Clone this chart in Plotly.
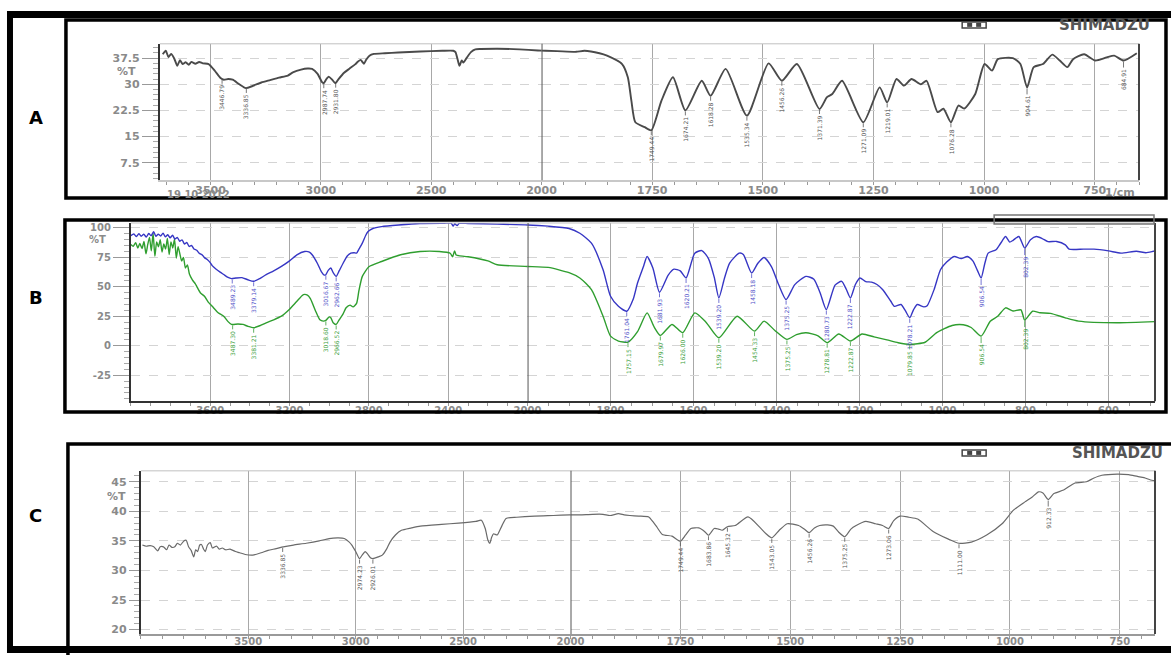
import numpy as np
import plotly.graph_objects as go

W, H = 1171, 655
WX = 1156  # pixel width that the paper area spans in the photographed page

# ---------------- Panel A data ----------------
a_wn = [3717, 3703, 3691, 3679, 3665, 3651, 3639, 3627, 3613, 3599, 3587, 3569, 3552, 3535, 3509,
        3480, 3455, 3440, 3420, 3400, 3370, 3340, 3310, 3270, 3230, 3190, 3150, 3127, 3090, 3060,
        3040, 3015, 2995, 2987, 2975, 2965, 2950, 2935, 2920, 2895, 2870, 2845, 2832, 2820, 2812,
        2805, 2795, 2780, 2760, 2710, 2650, 2550, 2450, 2400, 2390, 2380, 2372, 2362, 2354, 2340,
        2320, 2300, 2276, 2200, 2100, 2016, 1965, 1922, 1903, 1869, 1852, 1818, 1805, 1797, 1788,
        1767, 1752, 1729, 1703, 1675, 1638, 1618, 1584, 1536, 1487, 1457, 1423, 1372, 1355, 1343,
        1321, 1273, 1236, 1219, 1198, 1181, 1164, 1143, 1130, 1105, 1092, 1075, 1058, 1045, 1020,
        999, 982, 969, 935, 918, 903, 888, 867, 846, 829, 812, 799, 774, 749, 723, 706, 685, 655]
a_t = [38.6, 39.6, 37.8, 38.7, 37.4, 35.3, 36.9, 35.8, 36.3, 35.6, 36.4, 35.9, 36.4, 36.0, 35.8,
       33.8, 31.8, 31.3, 31.5, 31.3, 30.0, 28.9, 29.5, 30.5, 31.2, 31.9, 32.5, 33.4, 34.2, 34.5,
       34.4, 33.0, 30.6, 30.3, 31.5, 32.2, 31.4, 30.3, 31.5, 33.3, 34.5, 35.7, 36.5, 37.0, 36.4,
       35.9, 37.0, 38.2, 38.7, 38.9, 39.1, 39.4, 39.6, 39.6, 39.2, 37.0, 35.3, 36.8, 36.2, 37.5,
       39.2, 40.0, 40.1, 40.2, 40.0, 39.7, 39.5, 39.3, 39.6, 38.9, 38.2, 35.8, 32.0, 25.3, 19.1,
       17.7, 16.8, 25.3, 32.0, 22.5, 31.0, 26.7, 34.4, 21.0, 36.0, 31.0, 35.8, 22.9, 26.3, 27.2,
       31.0, 19.1, 29.1, 24.8, 31.5, 29.6, 31.5, 30.0, 31.0, 22.0, 23.0, 19.1, 23.9, 23.0, 27.2,
       35.8, 33.9, 37.2, 37.5, 35.8, 29.1, 34.9, 35.8, 38.5, 36.8, 34.9, 37.2, 38.6, 36.8, 37.7,
       38.2, 36.8, 38.9]
a_peak_wn = [3448, 3338, 2987, 2933, 1752, 1675, 1618, 1536, 1457, 1372, 1273, 1219, 1075, 903, 685]
a_peak_lbl = ["3446.79", "3336.85", "2987.74", "2931.80", "1749.44", "1674.21", "1618.28",
              "1535.34", "1456.26", "1371.39", "1271.09", "1219.01", "1076.28", "904.61", "684.91"]

# ---------------- Panel B data ----------------
b_wn_blue = [4000, 3985, 3972, 3960, 3948, 3935, 3922, 3910, 3898, 3885, 3874, 3862, 3850, 3838,
             3826, 3814, 3802, 3790, 3778, 3766, 3754, 3742, 3730, 3718, 3706, 3694, 3682, 3668,
             3655, 3640, 3629, 3615, 3600, 3590, 3570, 3550, 3532, 3510, 3493, 3470, 3440, 3410,
             3381, 3350, 3318, 3280, 3241, 3200, 3163, 3124, 3100, 3085, 3060, 3040, 3025, 3017,
             3005, 2992, 2980, 2965, 2950, 2930, 2910, 2891, 2875, 2862, 2850, 2833, 2815, 2804,
             2780, 2736, 2650, 2542, 2420, 2385, 2375, 2367, 2355, 2345, 2300, 2153, 2000, 1950,
             1900, 1874, 1846, 1818, 1800, 1781, 1761, 1745, 1735, 1720, 1712, 1698, 1682, 1661,
             1647, 1632, 1618, 1597, 1580, 1564, 1550, 1539, 1525, 1513, 1490, 1480, 1460, 1445,
             1430, 1412, 1395, 1377, 1356, 1329, 1310, 1295, 1280, 1259, 1243, 1232, 1222, 1210,
             1199, 1185, 1171, 1158, 1144, 1125, 1116, 1100, 1090, 1079, 1070, 1061, 1045, 1037,
             1020, 1005, 990, 972, 955, 940, 927, 916, 907, 898, 890, 871, 860, 848, 838, 830, 816,
             802, 788, 774, 760, 746, 725, 704, 695, 660, 635, 600, 570, 533, 510, 492, 459]
b_t_blue = [93.5, 94.8, 92.6, 95.1, 93.0, 94.6, 92.2, 95.3, 93.4, 96.8, 92.9, 94.7, 93.1, 95.6,
            92.4, 94.2, 91.6, 93.8, 90.5, 92.0, 88.7, 89.9, 86.4, 87.6, 84.3, 85.1, 82.2, 81.0,
            78.4, 77.0, 74.8, 73.2, 70.5, 68.0, 65.0, 62.5, 60.5, 58.0, 57.0, 57.5, 57.8, 56.0,
            54.7, 57.0, 60.3, 63.5, 67.3, 72.0, 77.2, 80.0, 79.5, 77.0, 70.0, 63.0, 60.0, 60.3,
            64.0, 66.0, 62.0, 58.9, 63.5, 70.0, 76.0, 78.6, 79.0, 78.6, 82.0, 87.1, 94.0, 96.9,
            99.5, 101.1, 102.5, 103.8, 104.0, 104.0, 101.5, 103.5, 102.0, 103.8, 103.8, 103.2, 102.5, 101.5,
            99.5, 95.5, 87.1, 64.5, 42.0, 33.5, 29.3, 40.0, 53.3, 68.0, 75.8, 66.0, 45.4, 60.0,
            65.0, 63.5, 57.5, 78.6, 80.8, 74.0, 58.0, 40.6, 58.0, 70.2, 78.6, 77.5, 61.7, 70.0,
            74.9, 67.0, 52.0, 39.2, 51.9, 58.9, 56.5, 45.0, 30.7, 51.5, 54.7, 48.0, 40.6, 52.0,
            57.5, 54.5, 54.0, 52.0, 47.6, 38.0, 33.5, 35.0, 30.0, 23.7, 30.5, 35.0, 33.0, 34.0,
            48.0, 64.5, 71.0, 75.8, 74.0, 75.8, 72.0, 64.0, 57.5, 70.0, 78.6, 81.5, 87.0, 92.7, 88.0, 89.5, 92.7,
            82.9, 90.0, 92.7, 91.0, 88.4, 88.5, 85.6, 82.0, 82.0, 82.0, 80.5, 78.6, 80.2, 79.0, 80.2, 82.9]
b_wn_green = [4000, 3988, 3976, 3965, 3955, 3944, 3934, 3924, 3915, 3906, 3897, 3888, 3879, 3870,
              3861, 3852, 3843, 3834, 3825, 3816, 3807, 3798, 3789, 3780, 3771, 3762, 3753, 3744,
              3735, 3725, 3715, 3705, 3690, 3675, 3668, 3650, 3629, 3610, 3590, 3560, 3532, 3510,
              3493, 3460, 3435, 3410, 3381, 3350, 3318, 3280, 3241, 3200, 3163, 3130, 3110, 3095,
              3070, 3047, 3030, 3017, 3000, 2992, 2980, 2965, 2950, 2930, 2915, 2895, 2880, 2862,
              2850, 2833, 2800, 2736, 2640, 2542, 2445, 2390, 2378, 2368, 2360, 2348, 2300, 2200,
              2153, 2000, 1950, 1900, 1874, 1846, 1818, 1800, 1781, 1758, 1735, 1712, 1695, 1680,
              1652, 1626, 1597, 1570, 1539, 1495, 1453, 1430, 1404, 1375, 1352, 1329, 1300, 1278,
              1250, 1222, 1194, 1165, 1134, 1107, 1079, 1042, 1014, 977, 950, 931, 907, 885, 867,
              848, 830, 811, 802, 783, 765, 740, 704, 672, 580, 459]
b_t_green = [86.0, 84.5, 87.5, 83.0, 86.8, 82.5, 88.5, 78.0, 86.0, 92.0, 80.5, 95.5, 76.0, 88.0,
             84.0, 90.0, 79.5, 86.5, 82.0, 91.0, 77.5, 88.0, 83.0, 90.5, 74.5, 84.0, 78.0, 72.0,
             75.0, 66.0, 68.5, 61.0, 56.0, 52.5, 50.4, 45.0, 42.0, 37.0, 33.5, 28.0, 25.1, 20.5,
             18.1, 18.5, 18.1, 16.5, 15.3, 17.0, 19.5, 22.0, 25.1, 31.0, 37.8, 43.4, 43.0, 40.0,
             30.0, 22.0, 20.9, 21.5, 24.5, 23.7, 19.5, 18.1, 22.0, 27.0, 32.2, 34.5, 33.0, 36.0,
             47.0, 58.9, 67.0, 71.5, 77.2, 80.0, 80.0, 78.5, 75.5, 80.5, 77.0, 76.5, 75.5, 72.0,
             68.8, 67.3, 66.5, 62.0, 57.5, 47.6, 25.1, 8.2, 4.0, 3.1, 12.0, 27.9, 16.0, 8.8,
             18.1, 11.1, 27.9, 20.0, 6.8, 25.1, 12.4, 20.9, 13.0, 5.4, 9.5, 11.1, 8.5, 2.6,
             10.0, 4.0, 10.0, 7.5, 5.0, 2.6, 1.2, 3.0, 11.1, 17.2, 17.8, 15.5, 8.2, 20.9, 25.0,
             32.2, 29.5, 30.5, 21.8, 29.3, 28.0, 27.5, 23.7, 20.9, 19.5, 20.9]
b_peak_blue_wn = [3489, 3381, 3017, 2965, 1761, 1682, 1618, 1539, 1460, 1377, 1280, 1222, 1079, 907, 802]
b_peak_blue_lbl = ["3489.23", "3379.14", "3016.67", "2962.66", "1761.04", "1681.93", "1620.21",
                   "1539.20", "1458.18", "1375.25", "1280.73", "1222.87", "1078.21", "906.54", "802.39"]
b_peak_green_wn = [3487, 3381, 3017, 2965, 1758, 1680, 1626, 1539, 1453, 1375, 1278, 1222, 1079, 907, 802]
b_peak_green_lbl = ["3487.30", "3381.21", "3018.60", "2966.52", "1757.15", "1679.97", "1626.00",
                    "1539.20", "1454.33", "1375.25", "1278.81", "1222.87", "1079.85", "906.54", "802.39"]

# ---------------- Panel C data ----------------
c_wn = [3993, 3975, 3957, 3940, 3922, 3910, 3895, 3880, 3869, 3855, 3842, 3830, 3816, 3800, 3789,
        3778, 3766, 3754, 3745, 3736, 3726, 3718, 3708, 3700, 3690, 3677, 3667, 3656, 3647, 3635,
        3621, 3605, 3585, 3560, 3540, 3514, 3479, 3440, 3408, 3370, 3337, 3290, 3230, 3170, 3124,
        3080, 3053, 3030, 3018, 3000, 2982, 2970, 2956, 2945, 2930, 2920, 2895, 2876, 2855, 2840,
        2815, 2787, 2740, 2699, 2600, 2521, 2440, 2415, 2397, 2385, 2376, 2367, 2358, 2350, 2341,
        2320, 2300, 2250, 2167, 2080, 2004, 1979, 1950, 1926, 1910, 1891, 1878, 1865, 1845, 1822,
        1812, 1804, 1791, 1769, 1750, 1738, 1726, 1708, 1695, 1686, 1673, 1663, 1655, 1643, 1625,
        1596, 1568, 1555, 1542, 1525, 1507, 1481, 1468, 1457, 1445, 1433, 1415, 1402, 1390, 1376,
        1362, 1350, 1328, 1306, 1290, 1276, 1265, 1250, 1230, 1210, 1175, 1140, 1116, 1088, 1053,
        1018, 992, 966, 950, 935, 925, 913, 900, 878, 852, 826, 810, 791, 756, 730, 710, 695, 680,
        669, 651]
c_t = [34.3, 34.1, 34.2, 34.0, 33.3, 34.0, 34.0, 33.5, 34.3, 33.9, 34.0, 34.6, 34.3, 35.0, 35.1,
       34.0, 33.4, 32.3, 33.5, 33.2, 34.3, 34.4, 33.6, 33.2, 34.3, 34.7, 33.8, 34.0, 34.1, 33.6,
       33.8, 33.5, 33.6, 33.2, 33.0, 32.7, 32.6, 33.0, 33.4, 33.7, 34.0, 34.3, 34.6, 35.0, 35.4,
       35.5, 35.4, 34.8, 34.3, 33.2, 32.0, 32.6, 33.2, 32.8, 32.1, 32.0, 32.3, 32.6, 33.7, 34.8,
       36.0, 36.8, 37.2, 37.5, 37.8, 38.0, 38.3, 38.5, 37.1, 35.2, 34.6, 35.6, 36.2, 36.1, 36.0,
       37.5, 38.8, 39.0, 39.2, 39.3, 39.4, 39.4, 39.5, 39.5, 39.3, 39.6, 39.4, 39.3, 39.2, 39.05,
       38.2, 37.4, 36.1, 35.8, 34.95, 36.0, 37.1, 37.2, 36.6, 35.96, 37.1, 37.0, 36.8, 37.4, 37.6,
       39.05, 37.2, 36.2, 35.5, 36.8, 37.9, 37.6, 37.0, 36.4, 37.2, 37.6, 37.7, 37.5, 36.5, 35.7,
       37.0, 37.6, 38.3, 37.9, 37.6, 37.1, 38.4, 39.2, 39.0, 38.7, 36.6, 35.3, 34.6, 34.8, 36.0,
       37.9, 40.2, 41.6, 42.4, 43.3, 43.1, 42.0, 43.0, 43.6, 44.8, 45.0, 45.6, 46.1, 46.3, 46.2, 45.9, 45.7, 45.3,
       45.2, 45.5]
c_peak_wn = [3340, 2982, 2920, 1750, 1686, 1643, 1542, 1457, 1376, 1276, 1116, 913]
c_peak_lbl = ["3336.85", "2974.23", "2926.01", "1749.44", "1683.86", "1645.32", "1543.05",
              "1456.26", "1375.25", "1273.06", "1111.00", "912.33"]

# ---------------- tick values ----------------
a_xticks_left = [3500, 3000, 2500, 2000]
a_xticks_right = [1750, 1500, 1250, 1000, 750]
a_yticks = [7.5, 15, 22.5, 30, 37.5]
b_xticks_left = [3600, 3200, 2800, 2400, 2000]
b_xticks_right = [1800, 1600, 1400, 1200, 1000, 800, 600]
b_yticks = [-25, 0, 25, 50, 75, 100]
c_xticks_left = [3500, 3000, 2500, 2000]
c_xticks_right = [1750, 1500, 1250, 1000, 750]
c_yticks = [20, 25, 30, 35, 40, 45]


def fx(px):
    return px / WX


def fy(py):
    return 1 - py / H


def tfont(size):
    return dict(family="DejaVu Sans", size=size, color="#8a8a8a", weight="bold")


fig = go.Figure()

panels = [
    dict(ax=("x", "x2", "y"), names=("xaxis", "xaxis2", "yaxis"), xl=160, xs=542, xr=1140, yt=43, yb=180,
         lr=[3730, 2000], rr=[2000, 650], yr=[2.5, 41.6], lt=a_xticks_left, rt=a_xticks_right,
         yt_vals=a_yticks, ymin=1.5, lminor=100, rminor=50, yticklen=16, bottomline="#c8c8c8",
         fs=11, xfs=11, xso=-4),
    dict(ax=("x3", "x4", "y2"), names=("xaxis3", "xaxis4", "yaxis2"), xl=131, xs=528, xr=1156, yt=223, yb=402,
         lr=[4000, 2000], rr=[2000, 488], yr=[-47, 104.2], lt=b_xticks_left, rt=b_xticks_right,
         yt_vals=b_yticks, ymin=5, lminor=100, rminor=50, yticklen=16, bottomline="#333333",
         fs=10, xfs=10, xso=-4),
    dict(ax=("x5", "x6", "y3"), names=("xaxis5", "xaxis6", "yaxis3"), xl=141, xs=571, xr=1156, yt=472, yb=636,
         lr=[4000, 2000], rr=[2000, 670], yr=[19.24, 46.85], lt=c_xticks_left, rt=c_xticks_right,
         yt_vals=c_yticks, ymin=1, lminor=100, rminor=50, yticklen=10, bottomline="#9a9a9a",
         fs=11, xfs=10, xso=-6),
]

layout = dict(width=W, height=H, margin=dict(l=0, r=0, t=0, b=0), paper_bgcolor="white",
              plot_bgcolor="white", showlegend=False)

shapes = []
annotations = []

for p in panels:
    xa, xb, ya = p["ax"]
    nxa, nxb, nya = p["names"]
    ydom = [fy(p["yb"]), fy(p["yt"])]
    common_x = dict(showgrid=True, gridcolor="#a8a8a8", gridwidth=1, zeroline=False,
                    ticks="outside", ticklen=3, tickcolor="#999", tickfont=tfont(p["xfs"]),
                    ticklabelstandoff=p["xso"],
                    showline=True, linecolor=p["bottomline"], linewidth=1.5, mirror=False,
                    anchor=ya)
    layout[nxa] = dict(common_x, domain=[fx(p["xl"]), fx(p["xs"])], range=p["lr"],
                       tickvals=p["lt"], ticktext=[str(v) for v in p["lt"]],
                       minor=dict(dtick=p["lminor"], ticks="outside", ticklen=3, tickcolor="#999", showgrid=False))
    layout[nxb] = dict(common_x, domain=[fx(p["xs"]), min(1.0, fx(p["xr"]))], range=p["rr"],
                       tickvals=p["rt"], ticktext=[str(v) for v in p["rt"]],
                       minor=dict(dtick=p["rminor"], ticks="outside", ticklen=3, tickcolor="#999", showgrid=False))
    layout[nya] = dict(domain=ydom, range=p["yr"], anchor=xa, tickvals=p["yt_vals"],
                       ticktext=[("%g" % v) for v in p["yt_vals"]],
                       showgrid=True, gridcolor="#d4d4d4", griddash="dash", gridwidth=1, zeroline=False,
                       ticks="outside", ticklen=p["yticklen"], tickcolor="#999", tickfont=tfont(p["fs"]),
                       showline=True, linecolor="#333", linewidth=2,
                       minor=dict(dtick=p["ymin"], ticks="outside", ticklen=5, tickcolor="#aaa", showgrid=False))
    shapes.append(dict(type="line", xref="paper", yref="paper", x0=fx(p["xl"]), x1=fx(p["xr"]),
                       y0=fy(p["yt"]), y1=fy(p["yt"]), line=dict(color="#c0c0c0", width=1)))
    shapes.append(dict(type="line", xref="paper", yref="paper", x0=fx(p["xr"]), x1=fx(p["xr"]),
                       y0=fy(p["yb"]), y1=fy(p["yt"]), line=dict(color="#444", width=2)))
    shapes.append(dict(type="line", xref=xb, yref=ya + " domain", x0=2000, x1=2000, y0=0, y1=1,
                       line=dict(color="#555", width=2)))


def add_spec(wn, t, axes, color, width):
    xa, xb, ya = axes
    for xx in (xa, xb):
        fig.add_trace(go.Scatter(x=wn, y=t, mode="lines", xaxis=xx, yaxis=ya,
                                 line=dict(color=color, width=width, shape="spline", smoothing=0.6),
                                 hoverinfo="skip"))


add_spec(a_wn, a_t, panels[0]["ax"], "#4a4a4a", 1.9)
add_spec(b_wn_green, b_t_green, panels[1]["ax"], "#2f9e2f", 1.4)
add_spec(b_wn_blue, b_t_blue, panels[1]["ax"], "#3636c4", 1.4)
add_spec(c_wn, c_t, panels[2]["ax"], "#6a6a6a", 1.2)


def add_labels(wn, t, pwn, plbl, axes, color, size=6, ay=18):
    xa, xb, ya = axes
    wn_r = np.array(wn[::-1], dtype=float)
    t_r = np.array(t[::-1], dtype=float)
    for w, lbl in zip(pwn, plbl):
        yv = float(np.interp(w, wn_r, t_r))
        annotations.append(dict(x=w, y=yv, xref=xa if w > 2000 else xb, yref=ya, text=lbl,
                                textangle=-90, showarrow=True, arrowhead=0, arrowwidth=0.8,
                                arrowcolor=color, ax=0, ay=ay, standoff=1,
                                font=dict(family="DejaVu Sans", size=size, color=color)))


add_labels(a_wn, a_t, a_peak_wn, a_peak_lbl, panels[0]["ax"], "#555555", 6, 19)
add_labels(b_wn_blue, b_t_blue, b_peak_blue_wn, b_peak_blue_lbl, panels[1]["ax"], "#5050c8", 6, 19)
add_labels(b_wn_green, b_t_green, b_peak_green_wn, b_peak_green_lbl, panels[1]["ax"], "#3a9e3a", 6, 19)
add_labels(c_wn, c_t, c_peak_wn, c_peak_lbl, panels[2]["ax"], "#555555", 6, 19)


def rect(x0, y0, x1, y1, fill=None, line=None, lw=0):
    d = dict(type="rect", xref="paper", yref="paper", x0=fx(x0), x1=fx(x1), y0=fy(y1), y1=fy(y0),
             layer="above")
    if fill:
        d["fillcolor"] = fill
    if line:
        d["line"] = dict(color=line, width=lw)
    else:
        d["line"] = dict(width=0)
    return d


shapes.append(rect(66, 19, 1167, 198, line="black", lw=3.5))
shapes.append(rect(65, 220, 1167, 413, line="black", lw=3.5))
shapes.append(rect(68, 445, 1180, 660, line="black", lw=3.5))
shapes.append(rect(8, 10, 1180, 17, fill="black"))
shapes.append(rect(7, 10, 13, 655, fill="black"))
shapes.append(rect(7, 648, 1180, 655, fill="black"))
shapes.append(rect(995, 215, 1155, 224, line="#777", lw=1.5))
for yy in (24, 454):
    shapes.append(rect(963, yy - 3, 987, yy + 3, line="#444", lw=1.5))
    shapes.append(rect(968, yy - 2, 973, yy + 2, fill="#444"))
    shapes.append(rect(977, yy - 2, 982, yy + 2, fill="#444"))


def text(px, py, s, size=11, color="#8a8a8a", anchor="center", weight="bold", family="DejaVu Sans"):
    annotations.append(dict(x=fx(px), y=fy(py), xref="paper", yref="paper", text=s, showarrow=False,
                            xanchor=anchor, yanchor="middle",
                            font=dict(family=family, size=size, color=color, weight=weight)))


text(36, 117, "A", 18, "black")
text(36, 298, "B", 18, "black")
text(36, 517, "C", 18, "black")
text(138, 71, "%T", 11, "#8a8a8a", "right")
text(108, 240, "%T", 10, "#8a8a8a", "right")
text(128, 498, "%T", 11, "#8a8a8a", "right")
text(165, 194, "19 10 2012", 10, "#8a8a8a", "left")
text(1138, 192, "1/cm", 11, "#8a8a8a", "right")
text(1153, 24, "SHIMADZU", 15, "#555", "right")
text(1166, 454, "SHIMADZU", 15, "#555", "right")

layout["shapes"] = shapes
layout["annotations"] = annotations
fig.update_layout(**layout)
fig.write_html("out.html", config={"displayModeBar": False},
               post_script=("document.documentElement.style.margin='0';"
                            "document.body.style.margin='0';"
                            "document.documentElement.style.overflow='hidden';"
                            "document.body.style.overflow='hidden';"))
